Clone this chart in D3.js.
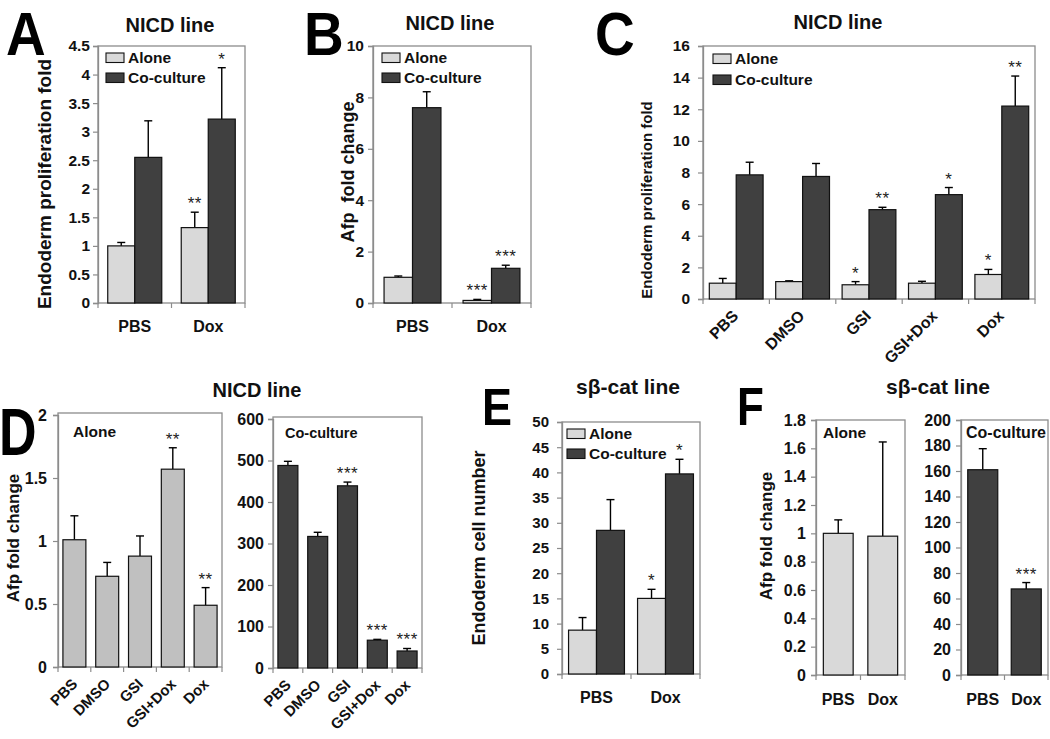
<!DOCTYPE html>
<html><head><meta charset="utf-8">
<script src="https://cdn.jsdelivr.net/npm/d3@7"></script>
<style>
html,body{margin:0;padding:0;background:#fff;}
svg{display:block;font-family:"Liberation Sans",Arial,sans-serif;}
</style></head><body>
<svg id="fig" width="1050" height="739"></svg>
<script>
// ---------- DATA ----------
// Panel A: NICD line, endoderm proliferation fold
const A_categories = ["PBS", "Dox"];
const A_alone = [1.0, 1.32];
const A_aloneErr = [0.06, 0.27];
const A_aloneSig = ["", "**"];
const A_co = [2.55, 3.22];
const A_coErr = [0.64, 0.90];
const A_coSig = ["", "*"];
const A_ticks = [0, 0.5, 1, 1.5, 2, 2.5, 3, 3.5, 4, 4.5];

// Panel B: NICD line, Afp fold change
const B_categories = ["PBS", "Dox"];
const B_alone = [1.0, 0.1];
const B_aloneErr = [0.05, 0.04];
const B_aloneSig = ["", "***"];
const B_co = [7.6, 1.35];
const B_coErr = [0.62, 0.12];
const B_coSig = ["", "***"];
const B_ticks = [0, 2, 4, 6, 8, 10];

// Panel C: NICD line, endoderm proliferation fold with inhibitors
const C_categories = ["PBS", "DMSO", "GSI", "GSI+Dox", "Dox"];
const C_alone = [1.0, 1.1, 0.9, 1.0, 1.55];
const C_aloneErr = [0.3, 0.05, 0.2, 0.12, 0.32];
const C_aloneSig = ["", "", "*", "", "*"];
const C_co = [7.85, 7.75, 5.65, 6.6, 12.2];
const C_coErr = [0.8, 0.82, 0.15, 0.45, 1.9];
const C_coSig = ["", "", "**", "*", "**"];
const C_ticks = [0, 2, 4, 6, 8, 10, 12, 14, 16];

// Panel D: NICD line, Afp fold change (Alone / Co-culture)
const D_categories = ["PBS", "DMSO", "GSI", "GSI+Dox", "Dox"];
const D_alone = [1.01, 0.72, 0.88, 1.57, 0.49];
const D_aloneErr = [0.19, 0.11, 0.16, 0.17, 0.14];
const D_aloneSig = ["", "", "", "**", "**"];
const D_aloneTicks = [0, 0.5, 1, 1.5, 2];
const D_co = [488, 317, 439, 67, 41];
const D_coErr = [10, 10, 9, 2, 6];
const D_coSig = ["", "", "***", "***", "***"];
const D_coTicks = [0, 100, 200, 300, 400, 500, 600];

// Panel E: sβ-cat line, endoderm cell number
const E_categories = ["PBS", "Dox"];
const E_alone = [8.7, 15.0];
const E_aloneErr = [2.5, 1.8];
const E_aloneSig = ["", "*"];
const E_co = [28.5, 39.7];
const E_coErr = [6.1, 2.9];
const E_coSig = ["", "*"];
const E_ticks = [0, 5, 10, 15, 20, 25, 30, 35, 40, 45, 50];

// Panel F: sβ-cat line, Afp fold change (Alone / Co-culture)
const F_categories = ["PBS", "Dox"];
const F_alone = [1.0, 0.98];
const F_aloneErr = [0.095, 0.665];
const F_aloneSig = ["", ""];
const F_aloneTicks = [0, 0.2, 0.4, 0.6, 0.8, 1, 1.2, 1.4, 1.6, 1.8];
const F_co = [161, 67.5];
const F_coErr = [16.5, 5];
const F_coSig = ["", "***"];
const F_coTicks = [0, 20, 40, 60, 80, 100, 120, 140, 160, 180, 200];

const seriesNames = ["Alone", "Co-culture"];
const LIGHT = "#d9d9d9", MID = "#c0c0c0", DARK = "#404040", BOX = "#8c8c8c";

// ---------- DRAWING ----------
const svg = d3.select("#fig");

function panel(c) {
  const g = svg.append("g");
  const y = d3.scaleLinear().domain([0, c.max]).range([c.yBot, c.yTop]);
  const x = d3.scaleBand().domain(c.cats).range([c.x0, c.x1])
    .paddingInner(c.pad).paddingOuter(c.pad / 2);
  const sub = d3.scaleBand().domain(d3.range(c.series.length)).range([0, x.bandwidth()]);

  // box
  g.append("rect").attr("x", c.x0).attr("y", c.yTop - (c.boxExtra || 0))
    .attr("width", c.x1 - c.x0).attr("height", c.yBot - c.yTop + (c.boxExtra || 0))
    .attr("fill", "none").attr("stroke", BOX).attr("stroke-width", 1.3);

  // y axis
  const ya = g.append("g").attr("transform", `translate(${c.x0},0)`)
    .call(d3.axisLeft(y).tickValues(c.ticks).tickSize(5).tickPadding(c.tickPad || 4)
      .tickFormat(d => String(d)));
  ya.select(".domain").attr("stroke", BOX).attr("stroke-width", 1.3);
  ya.selectAll(".tick line").attr("stroke", BOX).attr("stroke-width", 1.2);
  ya.selectAll(".tick text").attr("fill", "#111").attr("font-size", c.tickFont)
    .attr("font-weight", "bold").attr("font-family", "Liberation Sans, Arial, sans-serif");

  // x axis ticks at category boundaries
  const bounds = d3.range(c.cats.length + 1).map(i => c.x0 + i * x.step());
  g.selectAll(".xt").data(bounds).join("line")
    .attr("x1", d => d).attr("x2", d => d)
    .attr("y1", c.yBot).attr("y2", c.yBot + 5)
    .attr("stroke", BOX).attr("stroke-width", 1.2);

  // bars
  c.series.forEach((s, si) => {
    const bw = sub.bandwidth();
    c.cats.forEach((cat, i) => {
      const bx = x(cat) + sub(si);
      const v = s.vals[i], e = s.errs[i];
      const cx = bx + bw / 2;
      // error bar (upper)
      g.append("line").attr("x1", cx).attr("x2", cx)
        .attr("y1", y(v)).attr("y2", y(v + e))
        .attr("stroke", "#000").attr("stroke-width", 1.4);
      g.append("line").attr("x1", cx - 4).attr("x2", cx + 4)
        .attr("y1", y(v + e)).attr("y2", y(v + e))
        .attr("stroke", "#000").attr("stroke-width", 1.4);
      g.append("rect").attr("x", bx).attr("y", y(v))
        .attr("width", bw).attr("height", c.yBot - y(v))
        .attr("fill", s.fill).attr("stroke", "#111").attr("stroke-width", 1.2);
      if (s.sig[i]) {
        g.append("text").attr("x", cx).attr("y", y(v + e) - 3)
          .attr("text-anchor", "middle").attr("font-size", 17)
          .attr("fill", "#222").attr("letter-spacing", 0.5).text(s.sig[i]);
      }
    });
  });

  // x labels
  c.cats.forEach(cat => {
    const cx = x(cat) + x.bandwidth() / 2;
    if (c.rot) {
      g.append("text").attr("text-anchor", "end")
        .attr("transform", `translate(${cx + c.rotDx},${c.yBot + c.rotDy}) rotate(-45)`)
        .attr("font-size", c.xFont).attr("font-weight", "bold").attr("fill", "#111").text(cat);
    } else {
      g.append("text").attr("x", cx).attr("y", c.xLabelY).attr("text-anchor", "middle")
        .attr("font-size", c.xFont).attr("font-weight", "bold").attr("fill", "#111").text(cat);
    }
  });

  // legend
  if (c.legend) {
    c.series.forEach((s, si) => {
      const ly = c.legend.y + si * c.legend.dy;
      g.append("rect").attr("x", c.legend.x).attr("y", ly).attr("width", 18).attr("height", 9.5)
        .attr("fill", s.fill).attr("stroke", "#111").attr("stroke-width", 1.1);
      g.append("text").attr("x", c.legend.x + 22).attr("y", ly + 10)
        .attr("font-size", c.legend.font).attr("font-weight", "bold").attr("fill", "#111")
        .text(seriesNames[si]);
    });
  }
  if (c.inner) {
    g.append("text").attr("x", c.inner.x).attr("y", c.inner.y)
      .attr("font-size", c.inner.font).attr("font-weight", "bold").attr("fill", "#111")
      .text(c.inner.text);
  }
  if (c.ylabel) {
    g.append("text").attr("transform", `translate(${c.ylabel.x},${c.ylabel.y}) rotate(-90)`)
      .attr("text-anchor", "middle").attr("font-size", c.ylabel.font).attr("font-weight", "bold")
      .attr("fill", "#111").style("white-space", "pre").text(c.ylabel.text);
  }
}

function title(txt, x, y, size) {
  svg.append("text").attr("x", x).attr("y", y).attr("text-anchor", "middle")
    .attr("font-size", size || 20).attr("font-weight", "bold").attr("fill", "#111").text(txt);
}
function letter(txt, x, y, size, sy) {
  svg.append("text").attr("transform", `translate(${x},${y}) scale(1,${sy})`)
    .attr("font-size", size).attr("font-weight", "bold").attr("fill", "#000").text(txt);
}

// Panel A
panel({ x0: 98, x1: 245, yTop: 46, yBot: 303, max: 4.5, ticks: A_ticks, cats: A_categories, pad: 0.265,
  series: [{ vals: A_alone, errs: A_aloneErr, sig: A_aloneSig, fill: LIGHT },
           { vals: A_co, errs: A_coErr, sig: A_coSig, fill: DARK }],
  tickFont: 15.5, tickPad: 3, xFont: 16, xLabelY: 332,
  legend: { x: 106, y: 53, dy: 20, font: 15.5 },
  ylabel: { x: 51, y: 184, text: "Endoderm proliferation fold", font: 19 } });
title("NICD line", 170, 32);
letter("A", 6, 55, 55, 1.1);

// Panel B
panel({ x0: 373, x1: 531, yTop: 46, yBot: 303, max: 10, ticks: B_ticks, cats: B_categories, pad: 0.28,
  series: [{ vals: B_alone, errs: B_aloneErr, sig: B_aloneSig, fill: LIGHT },
           { vals: B_co, errs: B_coErr, sig: B_coSig, fill: DARK }],
  tickFont: 15.5, tickPad: 4, xFont: 16, xLabelY: 332,
  legend: { x: 382, y: 53, dy: 20, font: 15.5 },
  ylabel: { x: 354, y: 172, text: "Afp  fold change", font: 18 } });
title("NICD line", 450, 30);
letter("B", 304, 55, 55, 1.1);

// Panel C
panel({ x0: 703, x1: 1035, yTop: 46, yBot: 299, max: 16, ticks: C_ticks, cats: C_categories, pad: 0.19,
  series: [{ vals: C_alone, errs: C_aloneErr, sig: C_aloneSig, fill: LIGHT },
           { vals: C_co, errs: C_coErr, sig: C_coSig, fill: DARK }],
  tickFont: 15.5, tickPad: 8, xFont: 16, rot: true, rotDx: 3, rotDy: 18,
  legend: { x: 713, y: 54, dy: 21, font: 15.5 },
  ylabel: { x: 652, y: 200, text: "Endoderm proliferation fold", font: 15 } });
title("NICD line", 838, 29);
letter("C", 595, 55, 55, 1.1);

// Panel D (Alone)
panel({ x0: 58, x1: 222, yTop: 415, yBot: 667, max: 2, ticks: D_aloneTicks, cats: D_categories, pad: 0.3,
  boxExtra: 2,
  series: [{ vals: D_alone, errs: D_aloneErr, sig: D_aloneSig, fill: MID }],
  tickFont: 16, tickPad: 6, xFont: 15, rot: true, rotDx: 4, rotDy: 18,
  inner: { x: 73, y: 437, text: "Alone", font: 15.5 },
  ylabel: { x: 19, y: 538, text: "Afp fold change", font: 17 } });
// Panel D (Co-culture)
panel({ x0: 273, x1: 422, yTop: 419, yBot: 668, max: 600, ticks: D_coTicks, cats: D_categories, pad: 0.33,
  boxExtra: 2,
  series: [{ vals: D_co, errs: D_coErr, sig: D_coSig, fill: DARK }],
  tickFont: 16, xFont: 15, rot: true, rotDx: 4, rotDy: 18,
  inner: { x: 285, y: 438, text: "Co-culture", font: 14.5 } });
title("NICD line", 257, 397);
letter("D", -1, 455, 52, 1.28);

// Panel E
panel({ x0: 562, x1: 700, yTop: 422, yBot: 674, max: 50, ticks: E_ticks, cats: E_categories, pad: 0.19,
  series: [{ vals: E_alone, errs: E_aloneErr, sig: E_aloneSig, fill: LIGHT },
           { vals: E_co, errs: E_coErr, sig: E_coSig, fill: DARK }],
  tickFont: 15, tickPad: 8, xFont: 16, xLabelY: 703,
  legend: { x: 567, y: 429, dy: 20, font: 15.5 },
  ylabel: { x: 485, y: 548, text: "Endoderm cell number", font: 18 } });
title("sβ-cat line", 628, 394, 21);
letter("E", 482, 425, 45, 1.15);

// Panel F (Alone)
panel({ x0: 816, x1: 905, yTop: 420, yBot: 675, max: 1.8, ticks: F_aloneTicks, cats: F_categories, pad: 0.33,
  series: [{ vals: F_alone, errs: F_aloneErr, sig: F_aloneSig, fill: LIGHT }],
  tickFont: 16, tickPad: 5, xFont: 16, xLabelY: 705,
  inner: { x: 823, y: 438, text: "Alone", font: 15.5 },
  ylabel: { x: 772, y: 536, text: "Afp fold change", font: 17 } });
// Panel F (Co-culture)
panel({ x0: 961, x1: 1048, yTop: 420, yBot: 675, max: 200, ticks: F_coTicks, cats: F_categories, pad: 0.31,
  series: [{ vals: F_co, errs: F_coErr, sig: F_coSig, fill: DARK }],
  tickFont: 16, tickPad: 5, xFont: 16, xLabelY: 705,
  inner: { x: 966, y: 438, text: "Co-culture", font: 16 } });
title("sβ-cat line", 938, 394, 21);
letter("F", 737, 425, 44, 1.2);
</script>
</body></html>
